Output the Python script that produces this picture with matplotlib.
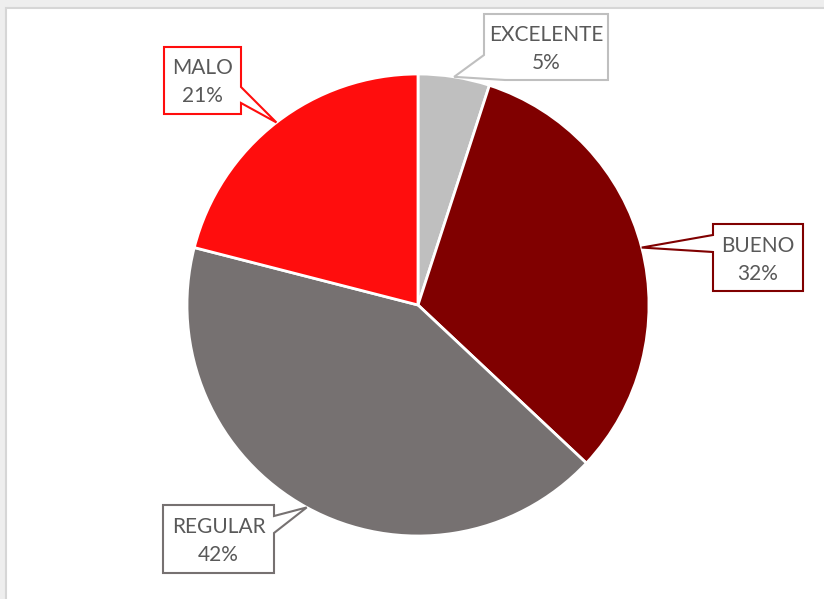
import numpy as np
import matplotlib
matplotlib.use("Agg")
import matplotlib.pyplot as plt
from matplotlib.patches import Rectangle, Polygon

categories = ["EXCELENTE", "BUENO", "REGULAR", "MALO"]
values = [5, 32, 42, 21]
colors = ["#BFBFBF", "#800000", "#767171", "#FF0D0D"]
labels = ["EXCELENTE\n5%", "BUENO\n32%", "REGULAR\n42%", "MALO\n21%"]

W, H = 824, 599
fig = plt.figure(figsize=(W / 100, H / 100), dpi=100)
fig.patch.set_facecolor("#EEEEEE")
ax = fig.add_axes([0, 0, 1, 1])
ax.set_xlim(0, W)
ax.set_ylim(0, H)
ax.axis("off")

def Y(y):
    return H - y

# white chart panel
ax.add_patch(Rectangle((6, -5), W, Y(8) + 5, facecolor="white",
                       edgecolor="#D6D6D6", linewidth=1.5, zorder=0))

cx, cy, r = 418, Y(305), 231
wedges, _ = ax.pie(values, colors=colors, startangle=90, counterclock=False,
                   center=(cx, cy), radius=r, frame=True,
                   wedgeprops=dict(edgecolor="white", linewidth=2))
ax.set_xlim(0, W)
ax.set_ylim(0, H)
ax.set_aspect("equal")
ax.axis("off")

def tip_of(w):
    t = np.deg2rad((w.theta1 + w.theta2) / 2)
    return (cx + r * np.cos(t), cy + r * np.sin(t))

# callout boxes (pixel coords, y down): left, top, right, bottom
boxes = {
    "EXCELENTE": (484, 14, 608, 80),
    "BUENO": (713, 224, 803, 291),
    "REGULAR": (163, 505, 274, 573),
    "MALO": (164, 47, 241, 114),
}

def callout(name, w, edgecol):
    l, t, rr, b = boxes[name]
    tx, ty = tip_of(w)
    if name == "EXCELENTE":
        pts = [(l, t), (rr, t), (rr, b), (505, b), None, (l, 55)]
    elif name == "BUENO":
        pts = [(l, t), (rr, t), (rr, b), (l, b), (l, 252), None, (l, 235)]
    elif name == "REGULAR":
        pts = [(l, t), (rr, t), (rr, 516), None, (rr, 533), (rr, b), (l, b)]
    else:  # MALO
        pts = [(l, t), (rr, t), (rr, 87), None, (rr, 103), (rr, b), (l, b)]
    conv = [(tx, ty) if p is None else (p[0], Y(p[1])) for p in pts]
    ax.add_patch(Polygon(conv, closed=True, facecolor="white", edgecolor=edgecol,
                         linewidth=1.5, zorder=3, joinstyle="miter"))

border_cols = {"EXCELENTE": "#BFBFBF", "BUENO": "#800000",
               "REGULAR": "#767171", "MALO": "#FF0D0D"}
for name, w, lab in zip(categories, wedges, labels):
    callout(name, w, border_cols[name])
    l, t, rr, b = boxes[name]
    ax.text((l + rr) / 2, Y((t + b) / 2) - 2, lab, ha="center", va="center",
            fontsize=15, color="#595959", family=["Lato", "DejaVu Sans"],
            linespacing=1.5, zorder=4)

fig.savefig("out.png", dpi=100, facecolor=fig.get_facecolor())
